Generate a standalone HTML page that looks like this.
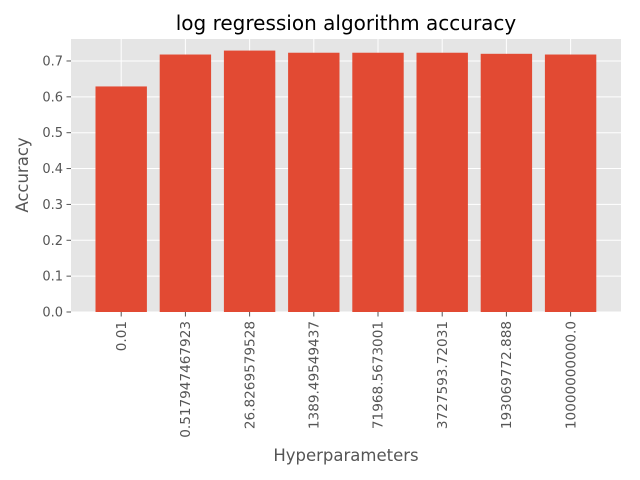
<!DOCTYPE html>
<html><head><meta charset="utf-8"><style>
body{margin:0;background:#fff;}
svg{display:block;font-family:"DejaVu Sans","Liberation Sans",sans-serif;}
</style></head><body>
<svg id="chart" width="640" height="480">
<rect width="640" height="480" fill="#fff"/>
<rect x="71" y="39" width="550" height="273" fill="#e5e5e5"/>
<g id="grid"></g>
<g id="bars"></g>
<g id="axes"></g>
<text x="346" y="30" font-size="20" text-anchor="middle" fill="#000">log regression algorithm accuracy</text>
<text x="346" y="461" font-size="16.5" text-anchor="middle" fill="#555">Hyperparameters</text>
<text transform="translate(28,175) rotate(-90)" font-size="16.5" text-anchor="middle" fill="#555">Accuracy</text>
</svg>
<script>
const categories=["0.01","0.517947467923","26.8269579528","1389.49549437","71968.5673001","3727593.72031","193069772.888","10000000000.0"];
const accuracy=[0.629,0.718,0.729,0.723,0.723,0.723,0.720,0.718];
const yTicks=[0,0.1,0.2,0.3,0.4,0.5,0.6,0.7];
const NS="http://www.w3.org/2000/svg";
const x0=121.2,step=64.2,bw=51.4,yBase=312,yScale=358.6;
const xPos=i=>x0+step*i;
const yPos=v=>yBase-v*yScale;
const grid=document.getElementById('grid'),bars=document.getElementById('bars'),axes=document.getElementById('axes');
function mk(tag,attrs,parent){const e=document.createElementNS(NS,tag);for(const k in attrs)e.setAttribute(k,attrs[k]);parent.appendChild(e);return e;}
yTicks.forEach(t=>{
  const y=yPos(t);
  const g=mk('line',{x1:71,x2:621,y1:y,y2:y,stroke:'#fff','stroke-width':1},grid);
  
  
  const tk=mk('line',{x1:66.5,x2:71,y1:y,y2:y,stroke:'#555','stroke-width':1},axes);
  
  
  const tx=mk('text',{x:63,y:y+4.5,'font-size':13,'text-anchor':'end',fill:'#555'},axes);
  tx.textContent=t.toFixed(1);
  
  
});
categories.forEach((c,i)=>{
  const x=xPos(i);
  const g=mk('line',{x1:x,x2:x,y1:39,y2:312,stroke:'#fff','stroke-width':1},grid);
  
  
  const r=mk('rect',{x:x-bw/2,y:yPos(accuracy[i]),width:bw,height:yBase-yPos(accuracy[i]),fill:'#e24a33'},bars);
  
  
  const tk=mk('line',{x1:x,x2:x,y1:312,y2:316.5,stroke:'#555','stroke-width':1},axes);
  
  
  const tx=mk('text',{transform:`translate(${x+4.7},321) rotate(-90)`,'font-size':13.6,'text-anchor':'end',fill:'#555'},axes);
  tx.textContent=c;
  
  
});
</script>
</body></html>
